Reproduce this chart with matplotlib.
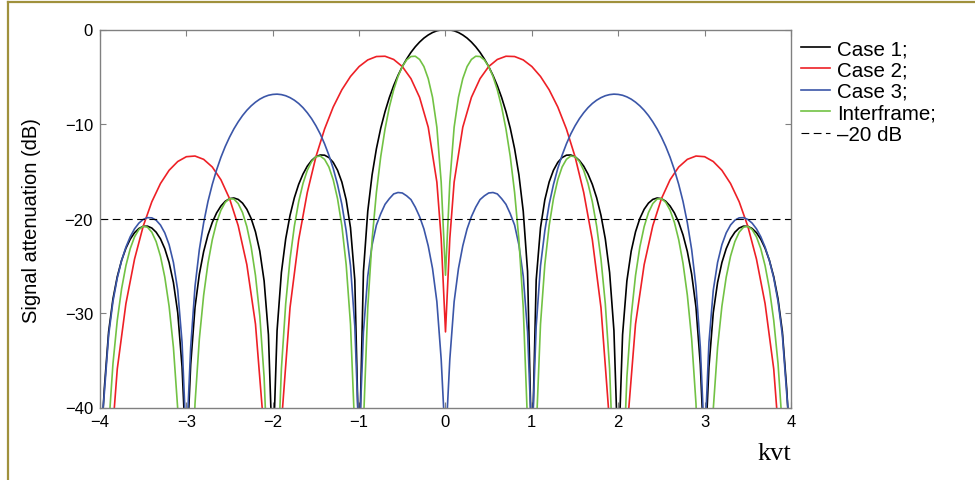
import numpy as np
import matplotlib
matplotlib.use('Agg')
import matplotlib.pyplot as plt
from matplotlib.lines import Line2D

plt.rcParams['font.family'] = ['Liberation Sans', 'DejaVu Sans']

# All curves are symmetric about kvt = 0: only the kvt >= 0 half is listed (dB).
kvt_half = np.arange(81) * 0.05  # 0, 0.05, ..., 4.0

case1_db = [
    0.0, -0.04, -0.14, -0.32, -0.58, -0.91, -1.33, -1.83, -2.42, -3.12,
    -3.92, -4.86, -5.94, -7.20, -8.69, -10.45, -12.62, -15.39, -19.23, -25.6,
    -46.0, -26.5, -20.97, -18.02, -16.14, -14.89, -14.06, -13.55, -13.30, -13.28,
    -13.46, -13.86, -14.46, -15.30, -16.39, -17.81, -19.67, -22.15, -25.72, -31.86,
    -46.0, -32.3, -26.6, -23.45, -21.41, -20.0, -19.02, -18.37, -17.98, -17.83,
    -17.90, -18.18, -18.68, -19.41, -20.41, -21.74, -23.50, -25.90, -29.39, -35.45,
    -46.0, -35.7, -29.97, -26.77, -24.66, -23.19, -22.15, -21.45, -21.01, -20.81,
    -20.83, -21.06, -21.50, -22.19, -23.15, -24.43, -26.15, -28.51, -31.97, -37.99,
    -46.0,
]

interframe_db = [
    -26.0, -16.15, -10.34, -7.18, -5.20, -3.92, -3.17, -2.83, -2.86, -3.22,
    -3.92, -4.97, -6.38, -8.20, -10.53, -13.46, -17.24, -22.25, -29.43, -41.7,
    -60.0, -42.6, -31.17, -24.88, -20.76, -17.90, -15.90, -14.55, -13.74, -13.39,
    -13.46, -13.97, -14.90, -16.30, -18.23, -20.82, -24.29, -29.01, -35.92, -47.97,
    -60.0, -48.4, -36.8, -30.31, -26.03, -23.01, -20.86, -19.37, -18.42, -17.94,
    -17.90, -18.29, -19.12, -20.41, -22.25, -24.75, -28.12, -32.76, -39.59, -51.56,
    -60.0, -51.8, -40.17, -33.63, -29.28, -26.20, -23.99, -22.45, -21.45, -20.92,
    -20.83, -21.17, -21.94, -23.19, -24.99, -27.44, -30.77, -35.37, -42.17, -54.1,
    -60.0,
]

case3_db = [
    -44.0, -34.9, -28.8, -25.3, -22.9, -21.1, -19.8, -18.8, -18.0, -17.6,
    -17.3, -17.25, -17.4, -17.9, -18.5, -19.5, -20.7, -22.8, -26.1, -32.0,
    -44.0, -31.4, -25.0, -21.3, -18.5, -16.4, -14.7, -13.3, -12.1, -11.06,
    -10.19, -9.44, -8.81, -8.27, -7.83, -7.48, -7.21, -7.01, -6.89, -6.84,
    -6.87, -6.96, -7.13, -7.37, -7.69, -8.08, -8.55, -9.11, -9.77, -10.52,
    -11.39, -12.38, -13.52, -14.85, -16.39, -18.2, -20.46, -23.3, -27.2, -33.6,
    -44.0, -33.1, -27.6, -24.65, -22.77, -21.52, -20.69, -20.18, -19.93, -19.91,
    -20.10, -20.49, -21.09, -21.93, -23.03, -24.45, -26.30, -28.78, -32.35, -38.5,
    -44.0,
]

case2_kvt = [0.0, 0.05, 0.1, 0.2, 0.3, 0.4, 0.5, 0.6, 0.7, 0.8, 0.9, 1.0,
             1.1, 1.2, 1.3, 1.4, 1.5, 1.6, 1.7, 1.8, 1.9, 2.0,
             2.1, 2.2, 2.3, 2.4, 2.5, 2.6, 2.7, 2.8, 2.9, 3.0,
             3.1, 3.2, 3.3, 3.4, 3.5, 3.6, 3.7, 3.8, 3.9, 4.0]
case2_db = [-32.0, -22.1, -16.15, -10.34, -7.18, -5.20, -3.92, -3.17, -2.83, -2.86, -3.22, -3.92,
            -4.97, -6.38, -8.20, -10.53, -13.46, -17.24, -22.25, -29.43, -41.7, -60.0,
            -42.6, -31.17, -24.88, -20.76, -17.90, -15.90, -14.55, -13.74, -13.39, -13.46,
            -13.97, -14.90, -16.30, -18.23, -20.82, -24.29, -29.01, -35.92, -47.97, -60.0]

threshold_db = -20
x_ticks = [-4, -3, -2, -1, 0, 1, 2, 3, 4]
y_ticks = [0, -10, -20, -30, -40]


def mirror(x, y):
    x = np.asarray(x, dtype=float)
    y = np.asarray(y, dtype=float)
    return np.concatenate([-x[:0:-1], x]), np.concatenate([y[:0:-1], y])


W, H = 975, 481
fig = plt.figure(figsize=(W / 100, H / 100), dpi=100)
ax = fig.add_axes([100 / W, 1 - 408.5 / H, 691 / W, 378 / H])

lw = 1.2
ax.plot(*mirror(kvt_half, case1_db), color='black', lw=lw, label='Case 1;')
ax.plot(*mirror(case2_kvt, case2_db), color='#ee2026', lw=lw, label='Case 2;')
ax.plot(*mirror(kvt_half, case3_db), color='#3b56a8', lw=lw, label='Case 3;')
ax.plot(*mirror(kvt_half, interframe_db), color='#72c244', lw=lw, label='Interframe;')
ax.axhline(threshold_db, color='black', lw=0.8, ls=(0, (7, 4)), label='\u201320 dB')

ax.set_xlim(-4, 4)
ax.set_ylim(-40, 0)
ax.set_xticks(x_ticks)
ax.set_yticks(y_ticks)
ax.tick_params(direction='in', top=True, right=True, length=4, width=0.8,
               color='#808080', labelsize=12, pad=5)
for s in ax.spines.values():
    s.set_color('#808080')
    s.set_linewidth(1.0)

ax.legend(loc='upper left', bbox_to_anchor=(801 / W, 1 - 40 / H),
          bbox_transform=fig.transFigure, frameon=False, fontsize=14.8,
          handlelength=1.4, handletextpad=0.35, labelspacing=0.12,
          borderpad=0, borderaxespad=0)

fig.text(32 / W, 1 - 221 / H, 'Signal attenuation (dB)', rotation=90,
         ha='center', va='center', fontsize=14.5)
fig.text(791 / W, 1 - 460 / H, 'kvt', ha='right', va='baseline',
         family=['Liberation Serif'], fontsize=19)

# olive frame lines (top and left)
olive = '#a0913c'
fig.add_artist(Line2D([7.5 / W, 7.5 / W], [0, 1 - 3 / H], transform=fig.transFigure,
                      color=olive, lw=1.6))
fig.add_artist(Line2D([7.5 / W, 1], [1 - 3 / H, 1 - 3 / H], transform=fig.transFigure,
                      color=olive, lw=1.6))

fig.savefig('out.png', dpi=100)
